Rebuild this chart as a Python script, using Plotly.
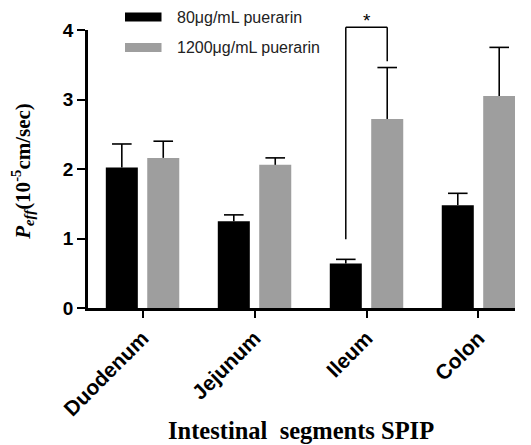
import plotly.graph_objects as go

categories = ["Duodenum", "Jejunum", "Ileum", "Colon"]
series_names = ["80μg/mL puerarin", "1200μg/mL puerarin"]
low_dose_mean = [2.02, 1.25, 0.64, 1.48]
low_dose_upper = [2.36, 1.34, 0.70, 1.65]
high_dose_mean = [2.16, 2.06, 2.72, 3.05]
high_dose_upper = [2.40, 2.16, 3.46, 3.75]
y_ticks = [0, 1, 2, 3, 4]
y_range = [0, 4]
sig_low_y, sig_top_y, sig_high_y = 0.99, 4.04, 3.55

colors = ["#000000", "#9e9e9e"]

# page offset (browser default body margin)
O = 8
W, H = 531 - O, 445 - O
# plot area in page pixels
PL, PR, PT, PB = 88, 515, 30, 308.5
L, T = PL - O, PT - O
R, B = W - (PR - O), H - (PB - O)
pw, ph = PR - PL, PB - PT
bargap = 0.26
bargroupgap = 0.227

def px_x(p):
    return (p - PL) / pw

def px_y(p):
    return (PB - p) / ph

def val_to_paper(v):
    return (v - y_range[0]) / (y_range[1] - y_range[0])

xpos = list(range(len(categories)))
off = (1 - bargap) / 4
fig = go.Figure()
for k, (name, mean, upper, col) in enumerate([
    (series_names[0], low_dose_mean, low_dose_upper, colors[0]),
    (series_names[1], high_dose_mean, high_dose_upper, colors[1]),
]):
    fig.add_trace(go.Bar(
        x=xpos, y=mean, name=name,
        marker=dict(color=col, line=dict(width=0)),
        error_y=dict(type="data", symmetric=False,
                     array=[u - m for u, m in zip(upper, mean)],
                     arrayminus=[0] * len(mean),
                     color="#000000", thickness=1.6, width=0),
        showlegend=False,
    ))
for k, upper in enumerate([low_dose_upper, high_dose_upper]):
    sign = -1 if k == 0 else 1
    fig.add_trace(go.Scatter(
        x=[i + sign * off for i in xpos], y=upper,
        mode="markers", cliponaxis=False, hoverinfo="skip", showlegend=False,
        marker=dict(symbol="line-ew", size=14, color="#000",
                    line=dict(color="#000", width=1.6)),
    ))

# significance bracket (ileum)
ci = categories.index("Ileum")
xs = [ci - off, ci - off, ci + off, ci + off]
ys = [sig_low_y, sig_top_y, sig_top_y, sig_high_y]
for i in range(3):
    fig.add_shape(type="line", xref="x", yref="paper",
                  x0=xs[i], x1=xs[i + 1],
                  y0=val_to_paper(ys[i]), y1=val_to_paper(ys[i + 1]),
                  line=dict(color="#000000", width=1.5))
fig.add_annotation(x=ci, y=val_to_paper(sig_top_y), xref="x", yref="paper", text="*",
                   showarrow=False, yanchor="bottom", yshift=-6,
                   font=dict(size=19, color="#000", family="Liberation Sans"))

# manual legend
for i, (name, col) in enumerate(zip(series_names, colors)):
    yc = 17 + i * 30.5
    fig.add_shape(type="rect", xref="paper", yref="paper",
                  x0=px_x(125), x1=px_x(161.5), y0=px_y(yc - 4.5), y1=px_y(yc + 4.5),
                  fillcolor=col, line=dict(width=0))
    fig.add_annotation(xref="paper", yref="paper", x=px_x(175), y=px_y(yc),
                       xanchor="left", yanchor="middle", showarrow=False, text=name,
                       font=dict(size=16, color="#222", family="Liberation Sans"))

# axis titles
fig.add_annotation(xref="paper", yref="paper", x=px_x(23), y=px_y(172),
                   text="<b><i>P</i><sub><i>eff</i></sub>(10<sup>-5</sup>cm/sec)</b>",
                   textangle=-90, showarrow=False, xanchor="center", yanchor="middle",
                   font=dict(size=21, color="#000", family="Liberation Serif"))
fig.add_annotation(xref="paper", yref="paper", x=px_x(301), y=px_y(431),
                   text="<b>Intestinal  segments SPIP</b>", showarrow=False,
                   xanchor="center", yanchor="middle",
                   font=dict(size=24.5, color="#000", family="Liberation Serif"))

fig.update_layout(
    width=W, height=H,
    margin=dict(l=L, r=R, t=T, b=B, pad=0, autoexpand=False),
    paper_bgcolor="white", plot_bgcolor="white",
    barmode="group", bargap=bargap, bargroupgap=bargroupgap,
    xaxis=dict(range=[-0.487, 3.326], tickvals=xpos, ticktext=categories,
               showgrid=False, zeroline=False,
               showline=True, linecolor="#000", linewidth=2.5,
               ticks="outside", ticklen=7, tickwidth=2, tickcolor="#000",
               tickangle=-45, automargin=False,
               tickfont=dict(size=21, color="#000", family="Liberation Sans", weight="bold")),
    yaxis=dict(range=y_range, tickvals=y_ticks, showgrid=False, zeroline=False,
               showline=True, linecolor="#000", linewidth=2.5,
               ticks="outside", ticklen=8, tickwidth=2, tickcolor="#000", automargin=False,
               tickfont=dict(size=19, color="#000", family="Liberation Sans", weight="bold")),
)

fig.write_html("out.html")
